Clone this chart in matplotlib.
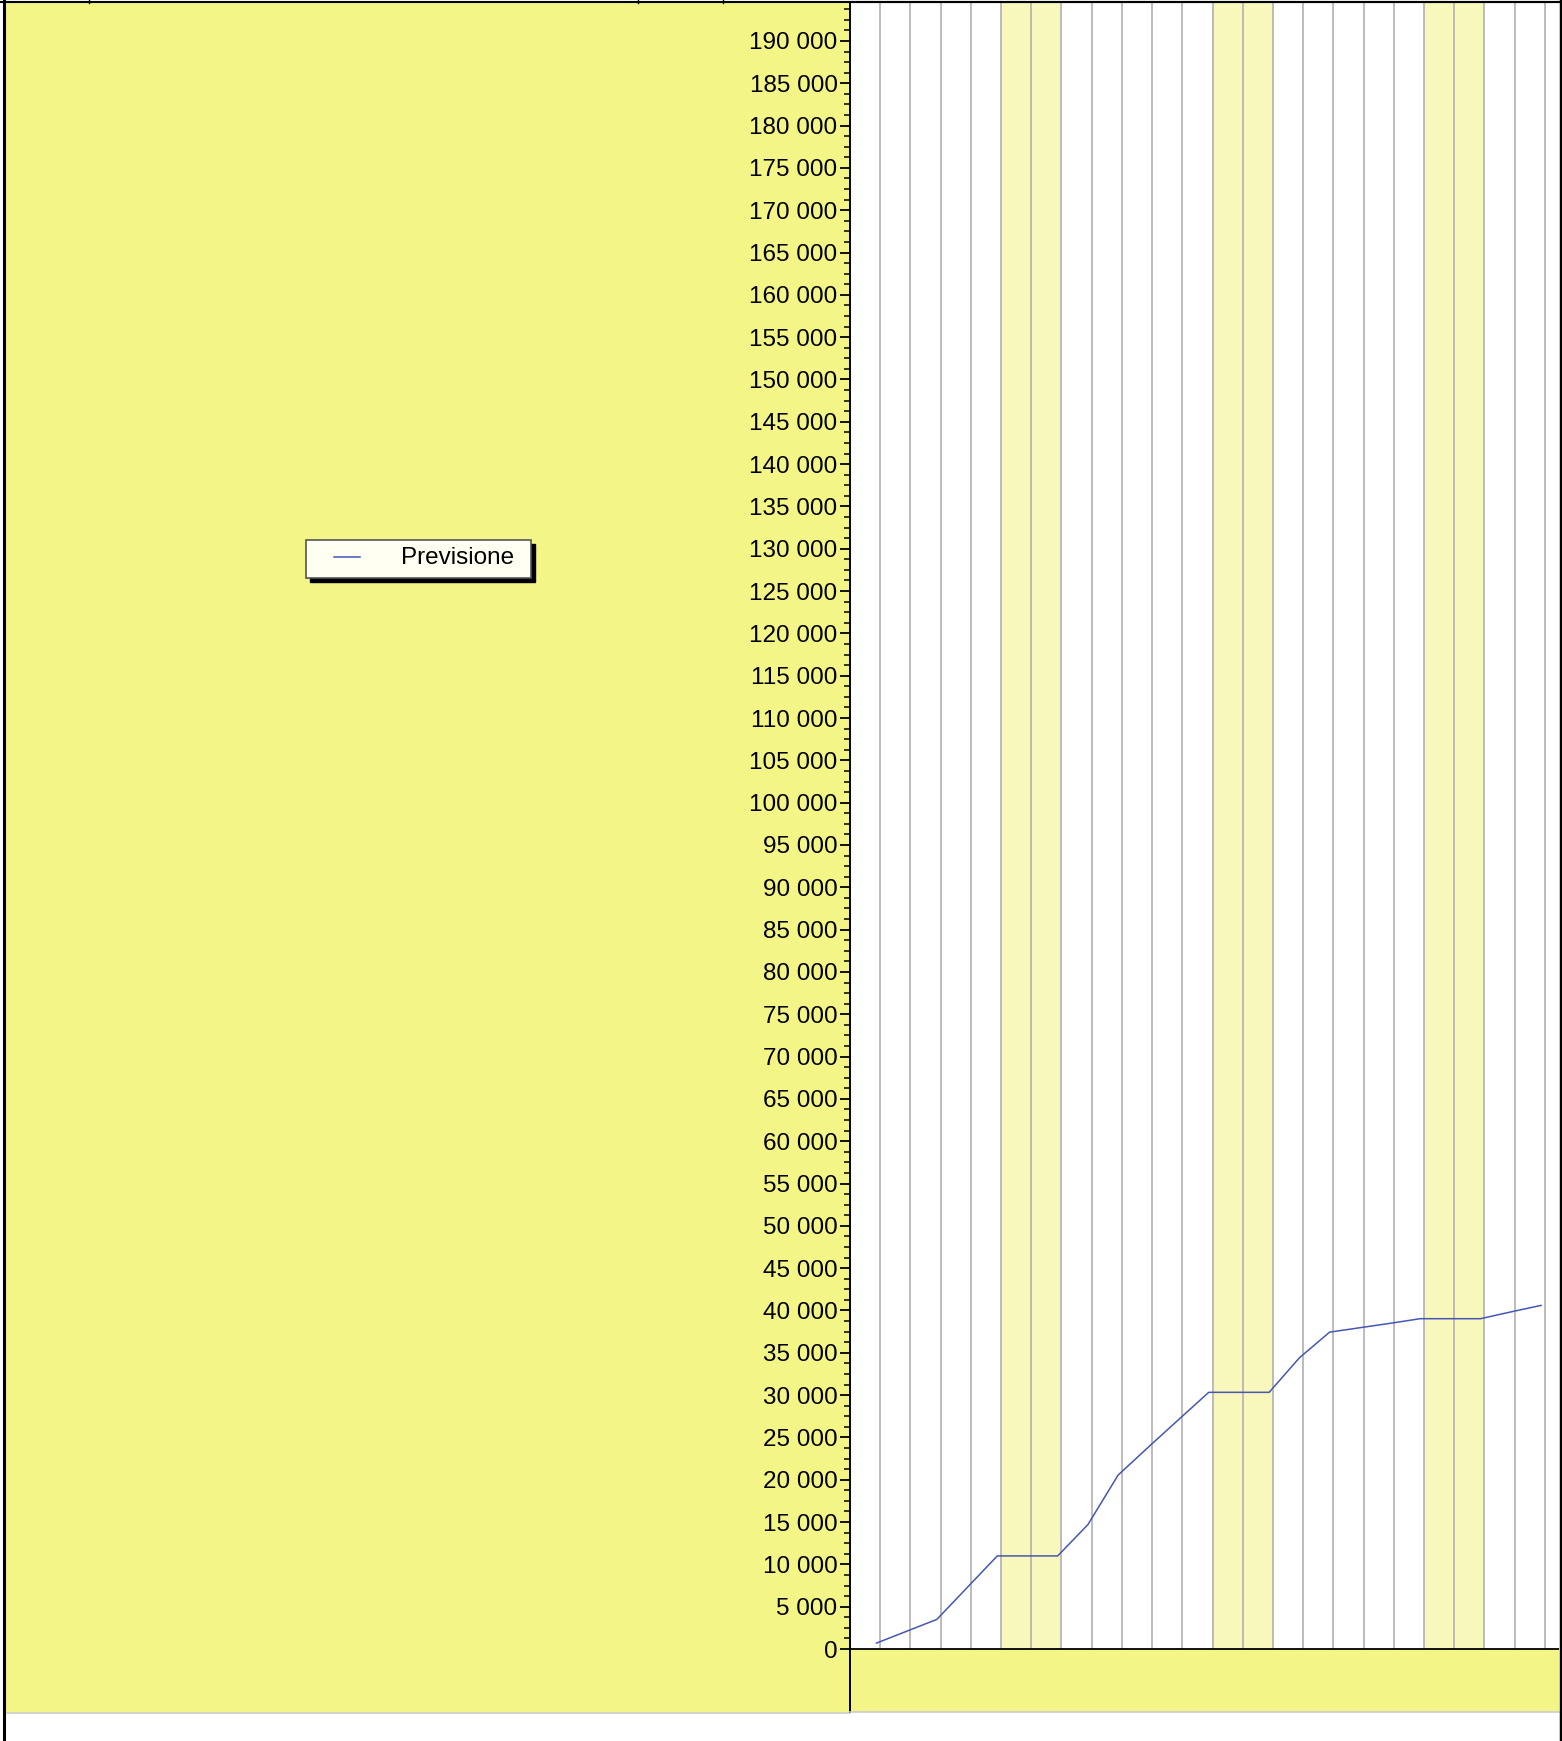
import numpy as np
import pandas as pd
import matplotlib.pyplot as plt
from matplotlib.lines import Line2D
from matplotlib.patches import Rectangle

plt.rcParams['font.family'] = ['Liberation Sans', 'DejaVu Sans']

# cumulative forecast, one value per day (read at ~21:00 of each day)
days = pd.date_range("2021-03-01 21:00", periods=23, freq="D")
previsione = [700, 2100, 3500, 7250, 11000, 11000, 11000, 14700, 20550, 23850,
              27100, 30330, 30330, 30330, 34400, 37440, 37960, 38480, 39030,
              39030, 39030, 39830, 40600]
series_name = "Previsione"

W, H = 1562, 1741
yellow = "#F3F587"
band = "#F8F8BC"
line_col = "#4656B4"


def fx(px):
    return px / W


def fy(py):
    return 1 - py / H


fig = plt.figure(figsize=(W / 100, H / 100), dpi=100, facecolor="white")

# yellow page background on the left (drawn below the axes)
fig.patches.append(Rectangle((fx(5), fy(1712)), fx(850) - fx(5), (1712 - 2) / H,
                             transform=fig.transFigure, color=yellow, zorder=-5))

ax = fig.add_axes([fx(850), fy(1712), (1559 - 850) / W, (1712 - 2) / H])
ax.set_facecolor("white")

ytop = 194600
ybot = -7440
x0 = pd.Timestamp("2021-03-01")
x1 = x0 + pd.Timedelta(days=23.47)
ax.set_xlim(x0, x1)
ax.set_ylim(ybot, ytop)

# area under the zero line
ax.axhspan(ybot, 0, color=yellow, zorder=0)

# weekend bands and day grid
midnights = pd.date_range(x0, periods=24, freq="D")
for d in midnights:
    if d.weekday() >= 5:
        ax.fill_between([d, d + pd.Timedelta(days=1)], 0, ytop, color=band, zorder=1, lw=0)
ax.vlines(midnights[1:], 0, ytop, color="#B0B0B0", lw=1.2, zorder=2)
ax.axhline(0, color="black", lw=1.3, zorder=3)

ax.plot(days, previsione, color=line_col, lw=1.1, zorder=4)

# axis styling
ax.set_xticks([])
ax.set_yticks(np.arange(0, 190001, 5000))
ax.set_yticks([v for v in np.arange(0, 194000, 1250) if v % 5000], minor=True)
ax.set_yticklabels([f"{v:,}".replace(",", " ") for v in range(0, 190001, 5000)], fontsize=17.5)
ax.tick_params(axis="y", which="major", direction="out", length=7, width=1.3, pad=2)
ax.tick_params(axis="y", which="minor", direction="out", length=4, width=1.1)
ax.spines["left"].set_linewidth(1.4)
ax.spines["top"].set_linewidth(1.5)
ax.spines["right"].set_visible(False)
ax.spines["bottom"].set_color("#CCCCCC")
ax.spines["bottom"].set_linewidth(1.2)

# page frame
fig.add_artist(Line2D([fx(4), fx(4)], [0, 1], color="black", lw=2.2, transform=fig.transFigure))
fig.add_artist(Line2D([fx(1560.5), fx(1560.5)], [0, 1], color="black", lw=2.5, transform=fig.transFigure))
fig.add_artist(Line2D([0, 1], [fy(2), fy(2)], color="black", lw=1.5, transform=fig.transFigure))
for px in [89, 638, 723]:
    fig.add_artist(Line2D([fx(px), fx(px)], [fy(0), fy(3)], color="black", lw=1, transform=fig.transFigure))
fig.add_artist(Line2D([fx(5), fx(850)], [fy(1712.5), fy(1712.5)], color="#CCCCCC", lw=1.2,
                      transform=fig.transFigure, zorder=-4))

# legend box with drop shadow
fig.patches.append(Rectangle((fx(310), fy(582)), (535 - 310) / W, (582 - 544) / H,
                             transform=fig.transFigure, color="black", zorder=5))
fig.patches.append(Rectangle((fx(306), fy(578)), (531 - 306) / W, (578 - 540) / H,
                             transform=fig.transFigure, facecolor="#FFFFF2",
                             edgecolor="#555555", lw=1.2, zorder=6))
fig.add_artist(Line2D([fx(334), fx(360)], [fy(557), fy(557)], color=line_col, lw=1.1,
                      transform=fig.transFigure, zorder=7))
fig.text(fx(401), fy(564), series_name, fontsize=17.5, va="baseline", zorder=7)

fig.savefig("out.png", dpi=100)
